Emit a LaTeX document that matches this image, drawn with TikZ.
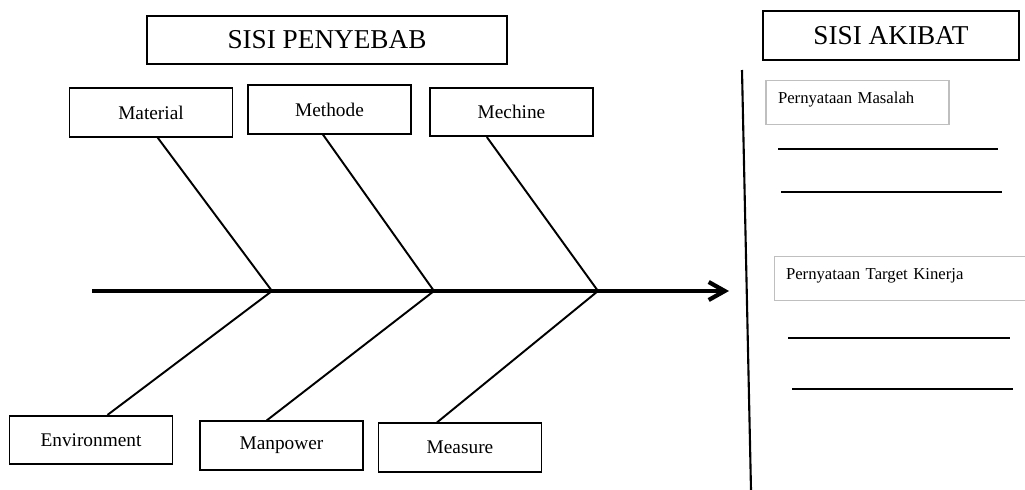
\documentclass[tikz,border=0pt]{standalone}
\usepackage{fontspec}
\setmainfont{Liberation Serif}
\usetikzlibrary{positioning}
\usetikzlibrary{calc}
\usetikzlibrary{arrows.meta}

\begin{document}
\begin{tikzpicture}[x=0.02cm, y=-0.02cm,
		cause/.style={draw, line width=0.9pt, minimum width=3.26cm, minimum height=0.97cm, inner sep=0pt, font=\fontsize{11}{13}\selectfont},
		side/.style={draw, line width=1pt, minimum height=0.97cm, inner sep=0pt, font=\fontsize{15.5}{18}\selectfont},
		note/.style={draw=black!25, line width=0.6pt, minimum height=0.88cm, inner xsep=0.24cm, inner ysep=0pt, align=left, text height=0.3cm, text depth=0.26cm, font=\fontsize{9.5}{11}\selectfont},
		bone/.style={line width=1.1pt},
		blank/.style={line width=1.2pt}]
		\useasboundingbox (0,0) rectangle (1025,490);
		% headers
		\node[side, minimum width=7.2cm] (penyebab) at (327,40) {SISI PENYEBAB};
		\node[side, minimum width=5.12cm] (akibat) at (891,35.5) {SISI AKIBAT};
		% causes
		\node[cause] (material) at (151,112.5) {Material};
		\node[cause] (methode) at (329.5,109.5) {Methode};
		\node[cause] (mechine) at (511.5,112) {Mechine};
		\node[cause] (environment) at (91,440) {Environment};
		\node[cause] (manpower) at (281.5,445.5) {Manpower};
		\node[cause] (measure) at (460,447.5) {Measure};
		% spine
		\coordinate (tail) at (92,291);
		\coordinate (head) at (729,291);
		\coordinate (j1) at (272,291);
		\coordinate (j2) at (434,291);
		\coordinate (j3) at (598,291);
		\draw[line width=2.4pt, -{Straight Barb[length=0.32cm, width=0.36cm]}] (tail) -- (head);
		\draw[bone] ($(material.south west)!0.54!(material.south east)$) -- (j1) -- ($(environment.north west)!0.6!(environment.north east)$);
		\draw[bone] ($(methode.south west)!0.46!(methode.south east)$) -- (j2) -- ($(manpower.north west)!0.41!(manpower.north east)$);
		\draw[bone] ($(mechine.south west)!0.35!(mechine.south east)$) -- (j3) -- ($(measure.north west)!0.36!(measure.north east)$);
		% effect side
		\coordinate (divtop) at (742,70);
		\coordinate (divbot) at (751,490);
		\draw[line width=1.2pt] (divtop) -- (divbot);
		\node[note, text width=3.18cm] (masalah) at (857.5,102.5) {Pernyataan Masalah};
		\node[note, text width=4.6cm] (target) at (901,278.5) {Pernyataan Target Kinerja};
		\draw[blank] (778,149) -- (998,149);
		\draw[blank] (781,192) -- (1002,192);
		\draw[blank] (788,338) -- (1010,338);
		\draw[blank] (792,389) -- (1013,389);
	\end{tikzpicture}
\end{document}
